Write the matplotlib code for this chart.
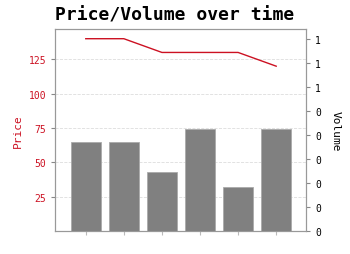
import matplotlib
matplotlib.use("Agg")
import matplotlib.pyplot as plt
from matplotlib.ticker import FormatStrFormatter

# data
periods = [0, 1, 2, 3, 4, 5]
price = [140, 140, 130, 130, 130, 120]
volume = [0.65, 0.65, 0.43, 0.74, 0.32, 0.74]
price_ticks = [25, 50, 75, 100, 125]
volume_ticks = [0, 0.175, 0.35, 0.525, 0.7, 0.875, 1.05, 1.225, 1.4]

plt.rcParams['font.family'] = 'DejaVu Sans Mono'

fig = plt.figure(figsize=(3.5, 2.55), dpi=100)
ax = fig.add_axes([0.158, 0.090, 0.716, 0.792])
ax2 = ax.twinx()

# grid + price line on the host axes, bars on the twin (drawn above)
ax.plot(periods, price, color='#cc1122', linewidth=1.0)
ax.grid(axis='y', linestyle='--', color='#dddddd', linewidth=0.6)
ax2.bar(periods, volume, width=0.8, color='#808080', edgecolor='#aaaaaa', linewidth=0.6)

ax.set_xlim(-0.8, 5.78)
ax.set_ylim(0, 147)
ax2.set_ylim(0, 1.47)

ax.set_yticks(price_ticks)
ax.set_xticks(periods)
ax.set_xticklabels([''] * len(periods))
ax.tick_params(axis='y', colors='#cc1122', labelsize=7, length=3, color='#888888')
ax.tick_params(axis='x', length=3, color='#bbbbbb')

ax2.set_yticks(volume_ticks)
ax2.yaxis.set_major_formatter(FormatStrFormatter('%d'))
ax2.tick_params(axis='y', labelsize=7, length=3, color='#888888')

ax.set_ylabel('Price', color='#cc1122', fontsize=8)
ax2.set_ylabel('Volume', fontsize=8, rotation=270, labelpad=14)

for a in (ax, ax2):
    for s in a.spines.values():
        s.set_color('#999999')
        s.set_linewidth(0.8)

fig.suptitle('Price/Volume over time', fontsize=13, fontweight='bold', y=0.975)

fig.savefig('out.png', dpi=100)
